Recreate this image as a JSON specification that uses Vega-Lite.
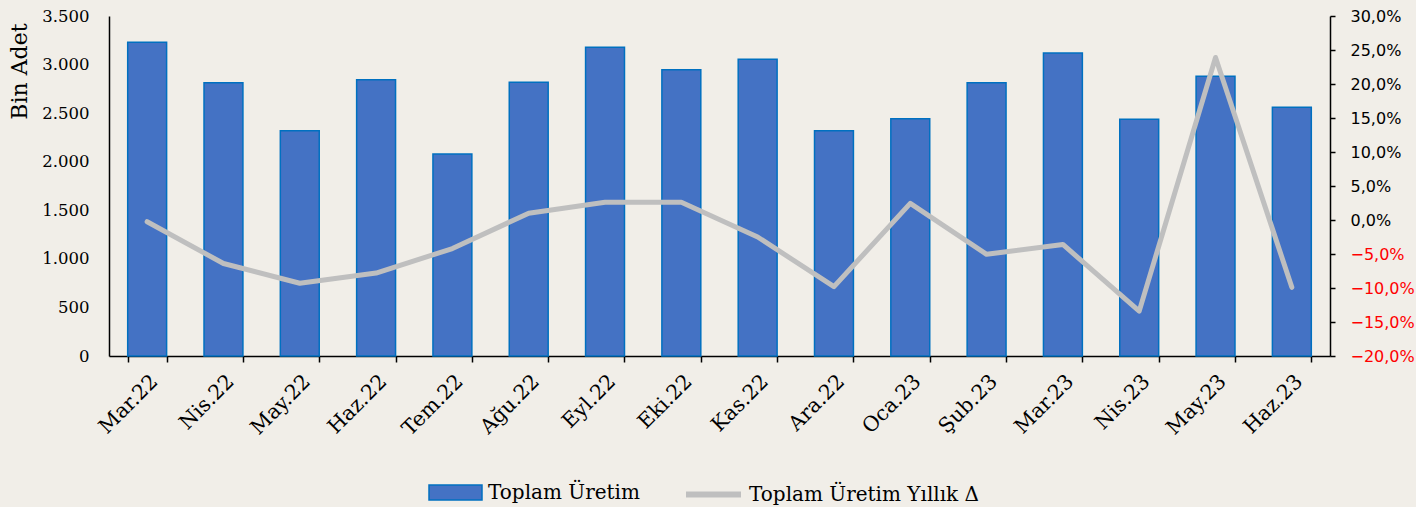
{
  "$schema": "https://vega.github.io/schema/vega-lite/v6.json",
  "width": 1221,
  "height": 340,
  "autosize": {"type": "none"},
  "padding": {"left": 109, "top": 16, "right": 86, "bottom": 151},
  "background": "#F1EEE8",
  "config": {
    "view": {"stroke": null},
    "locale": {"number": {"decimal": ",", "thousands": ".", "grouping": [3], "currency": ["", " TL"]}}
  },
  "data": {
    "values": [
      {"ay": "Mar.22", "uretim": 3229, "yillik": -0.0025},
      {"ay": "Nis.22", "uretim": 2813, "yillik": -0.064},
      {"ay": "May.22", "uretim": 2319, "yillik": -0.093},
      {"ay": "Haz.22", "uretim": 2844, "yillik": -0.078},
      {"ay": "Tem.22", "uretim": 2079, "yillik": -0.042},
      {"ay": "Ağu.22", "uretim": 2817, "yillik": 0.010},
      {"ay": "Eyl.22", "uretim": 3178, "yillik": 0.026},
      {"ay": "Eki.22", "uretim": 2947, "yillik": 0.026},
      {"ay": "Kas.22", "uretim": 3054, "yillik": -0.025},
      {"ay": "Ara.22", "uretim": 2319, "yillik": -0.098},
      {"ay": "Oca.23", "uretim": 2443, "yillik": 0.0245},
      {"ay": "Şub.23", "uretim": 2813, "yillik": -0.0505},
      {"ay": "Mar.23", "uretim": 3119, "yillik": -0.036},
      {"ay": "Nis.23", "uretim": 2437, "yillik": -0.134},
      {"ay": "May.23", "uretim": 2879, "yillik": 0.239},
      {"ay": "Haz.23", "uretim": 2560, "yillik": -0.099}
    ]
  },
  "encoding": {
    "x": {
      "field": "ay",
      "type": "nominal",
      "sort": null,
      "title": null,
      "scale": {"paddingInner": 0.49, "paddingOuter": 0.245},
      "axis": {
        "labelAngle": -45,
        "labelFont": "DejaVu Serif",
        "labelFontSize": 20.5,
        "labelColor": "#000000",
        "labelPadding": 9,
        "domainColor": "#000000",
        "domainWidth": 1.5,
        "tickColor": "#000000",
        "tickWidth": 1.5,
        "tickSize": 6,
        "tickBand": "extent",
        "grid": false
      }
    }
  },
  "layer": [
    {
      "mark": {"type": "bar", "stroke": "#0070C0", "strokeWidth": 1.5},
      "encoding": {
        "y": {
          "field": "uretim",
          "type": "quantitative",
          "title": "Bin Adet",
          "scale": {"domain": [0, 3500], "nice": false},
          "axis": {
            "values": [0, 500, 1000, 1500, 2000, 2500, 3000, 3500],
            "format": ",.0f",
            "labelFont": "DejaVu Serif",
            "labelFontSize": 16.5,
            "labelColor": "#000000",
            "labelPadding": 20,
            "ticks": false,
            "tickSize": 0,
            "domainColor": "#000000",
            "domainWidth": 1.5,
            "grid": false,
            "titleFont": "DejaVu Serif",
            "titleFontSize": 22,
            "titleFontWeight": "normal",
            "titleColor": "#000000",
            "titleAnchor": "end",
            "titleY": 7,
            "titlePadding": 10
          }
        },
        "fill": {
          "datum": "Toplam Üretim",
          "type": "nominal",
          "scale": {"range": ["#4472C4"]},
          "legend": {
            "orient": "none",
            "legendX": 319,
            "legendY": 449,
            "padding": 0,
            "title": null,
            "symbolType": "M-1,-0.28H1V0.28H-1Z",
            "symbolSize": 2809,
            "symbolStrokeColor": "#0070C0",
            "symbolStrokeWidth": 1.5,
            "symbolOpacity": 1,
            "labelFont": "DejaVu Serif",
            "labelFontSize": 20,
            "labelColor": "#000000",
            "labelOffset": 5,
            "labelLimit": 400
          }
        }
      }
    },
    {
      "mark": {"type": "line", "color": "#BFBFBF", "strokeWidth": 5, "strokeCap": "round", "strokeJoin": "round"},
      "encoding": {
        "y": {
          "field": "yillik",
          "type": "quantitative",
          "title": null,
          "scale": {"domain": [-0.2, 0.3], "nice": false, "zero": false},
          "axis": {
            "orient": "right",
            "values": [-0.2, -0.15, -0.1, -0.05, 0, 0.05, 0.1, 0.15, 0.2, 0.25, 0.3],
            "format": ".1%",
            "labelFont": "DejaVu Sans",
            "labelFontSize": 16,
            "labelColor": {"condition": {"test": "datum.value < 0", "value": "#FF0000"}, "value": "#000000"},
            "labelPadding": 15,
            "tickSize": 5,
            "tickColor": "#000000",
            "tickWidth": 1.5,
            "domainColor": "#000000",
            "domainWidth": 1.5,
            "grid": false
          }
        },
        "stroke": {
          "datum": "Toplam Üretim Yıllık Δ",
          "type": "nominal",
          "scale": {"range": ["#BFBFBF"]},
          "legend": {
            "orient": "none",
            "legendX": 574,
            "legendY": 448,
            "padding": 0,
            "title": null,
            "symbolType": "stroke",
            "symbolSize": 3025,
            "symbolStrokeWidth": 6,
            "labelFont": "DejaVu Serif",
            "labelFontSize": 20,
            "labelColor": "#000000",
            "labelOffset": 5,
            "labelLimit": 400
          }
        }
      }
    }
  ],
  "resolve": {"scale": {"y": "independent"}}
}
